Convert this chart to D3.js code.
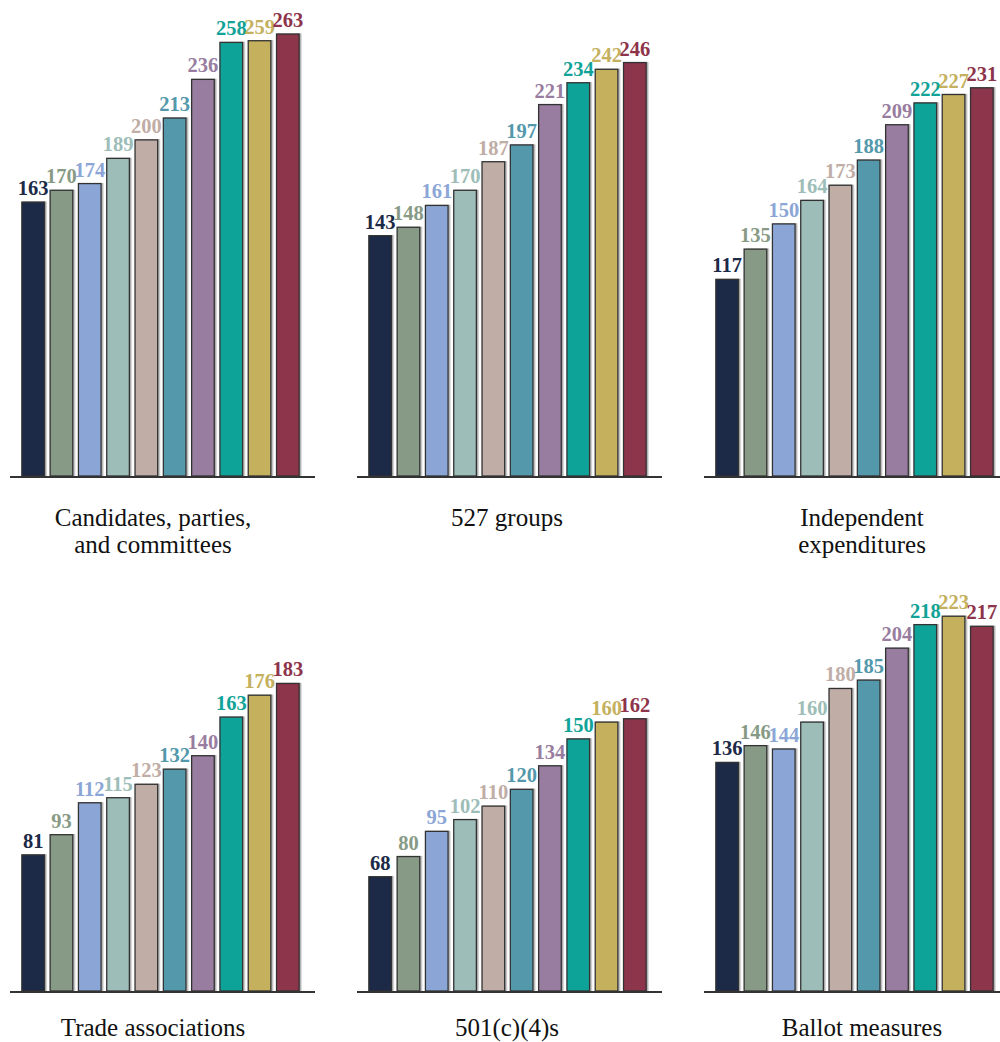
<!DOCTYPE html>
<html>
<head>
<meta charset="utf-8">
<script src="https://cdn.jsdelivr.net/npm/d3@7"></script>
<style>
body{margin:0;background:#fff}
text{font-family:"Liberation Serif","DejaVu Serif",serif}
</style>
</head>
<body>
<div id="chart"></div>
<script>
var w = 1000, h = 1042

// panels
var titles = [
	["Candidates, parties,","and committees"],
	["527 groups"],
	["Independent","expenditures"],
	["Trade associations"],
	["501(c)(4)s"],
	["Ballot measures"]
]
var candidates = [163,170,174,189,200,213,236,258,259,263]
var groups527 = [143,148,161,170,187,197,221,234,242,246]
var independent = [117,135,150,164,173,188,209,222,227,231]
var trade = [81,93,112,115,123,132,140,163,176,183]
var c4s = [68,80,95,102,110,120,134,150,160,162]
var ballot = [136,146,144,160,180,185,204,218,223,217]
var series = [candidates,groups527,independent,trade,c4s,ballot]

var colors = ["#1c2a47","#879a85","#8ba6d6","#9dbdb8","#c0ada6","#5398ab","#987da0","#11a398","#c4b05d","#8d344b"]

var panelX = [10,357,704]
var titleX = [153,507,862]
var baseY = [476,991]
var titleY = [526,1036]
var panelW = 305

var svg = d3.select("#chart")
		.append("svg").attr("width",w).attr("height",h)

var defs = svg.append("defs")
var f = defs.append("filter").attr("id","shadow")
	.attr("x","-20%").attr("y","-5%").attr("width","140%").attr("height","110%")
f.append("feDropShadow").attr("dx",1.5).attr("dy",0).attr("stdDeviation",0.6)
	.attr("flood-color","#777").attr("flood-opacity",0.6)

// shared value scale (bar heights)
var y = d3.scaleLinear().domain([0,263]).range([0,442])

series.forEach(function(vals,p){
	var x0 = panelX[p%3]
	var by = baseY[Math.floor(p/3)]
	var x = d3.scaleBand()
		.domain(d3.range(vals.length))
		.range([x0+9,x0+292])
		.paddingInner(0.2)
		.paddingOuter(0.1)

	var g = svg.append("g").attr("class","panel_"+p)

	g.selectAll("rect")
		.data(vals)
		.enter()
		.append("rect")
		.attr("x",function(d,i){return x(i)})
		.attr("y",function(d){return by-y(d)})
		.attr("width",x.bandwidth())
		.attr("height",function(d){return y(d)})
		.attr("fill",function(d,i){return colors[i]})
		.attr("stroke","#333")
		.attr("stroke-width",1.3)
		.attr("filter","url(#shadow)")

	g.selectAll(".val")
		.data(vals)
		.enter()
		.append("text")
		.attr("class","val")
		.attr("x",function(d,i){return x(i)+x.bandwidth()/2})
		.attr("y",function(d){return by-y(d)-7})
		.attr("text-anchor","middle")
		.attr("font-size",20.5)
		.attr("font-weight","bold")
		.attr("fill",function(d,i){return colors[i]})
		.text(function(d){return d})

	g.append("line")
		.attr("x1",x0).attr("x2",x0+panelW)
		.attr("y1",by+1).attr("y2",by+1)
		.attr("stroke","#333")
		.attr("stroke-width",2)

	var tx = titleX[p%3]
	var t = g.append("text")
		.attr("x",tx)
		.attr("y",titleY[Math.floor(p/3)])
		.attr("text-anchor","middle")
		.attr("font-size",25)
		.attr("fill","#111")
	titles[p].forEach(function(line,i){
		t.append("tspan").attr("x",tx).attr("dy",i==0?0:27).text(line)
	})
})
</script>
</body>
</html>
